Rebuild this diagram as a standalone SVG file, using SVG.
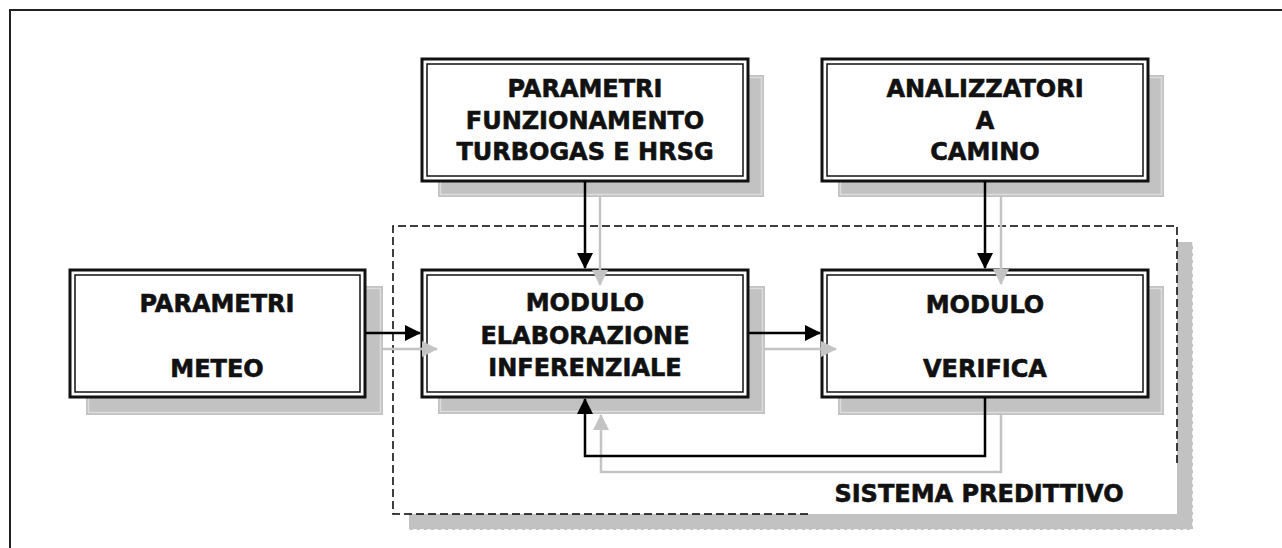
<svg xmlns="http://www.w3.org/2000/svg" width="1282" height="548" viewBox="0 0 1282 548">
  <style>
    .frame { fill: none; stroke: #222; stroke-width: 2; }
    .shadow { fill: #c2c2c2; }
    .shadow-edge { fill: none; stroke: #dcdcdc; stroke-width: 1.5; }
    .box-outer { fill: #fff; stroke: #111; stroke-width: 3; }
    .box-inner { fill: none; stroke: #111; stroke-width: 1.5; }
    .label { font-family: "DejaVu Sans", Verdana, sans-serif; font-weight: bold; font-size: 24px; fill: #111; stroke: #111; stroke-width: 0.6; text-anchor: middle; }
    .wire { fill: none; stroke: #000; stroke-width: 2.5; }
    .wire-shadow { fill: none; stroke: #c4c4c4; stroke-width: 2.5; }
    .sys { fill: none; stroke: #000; stroke-width: 1.5; stroke-dasharray: 8 4; }
  </style>
  <defs>
    <marker id="arrow" viewBox="0 0 16 16" refX="15" refY="8" markerWidth="16" markerHeight="16" markerUnits="userSpaceOnUse" orient="auto">
      <path d="M0,0 L16,8 L0,16 Z" fill="#000"/>
    </marker>
    <marker id="arrow-shadow" viewBox="0 0 16 16" refX="15" refY="8" markerWidth="16" markerHeight="16" markerUnits="userSpaceOnUse" orient="auto">
      <path d="M0,0 L16,8 L0,16 Z" fill="#c4c4c4"/>
    </marker>
  </defs>

  <rect width="1282" height="548" fill="#fff"/>

  <!-- page frame (open to the right and bottom) -->
  <path class="frame" d="M10,548 V10 H1282"/>

  <!-- predictive system boundary with its drop shadow -->
  <g id="sistema-predittivo">
    <rect x="409" y="242" width="784" height="288" fill="#c2c2c2"/>
    <path d="M1193,242 V530 H409" fill="none" stroke="#fff" stroke-width="1.5" stroke-dasharray="4 3"/>
    <rect x="393" y="226" width="784" height="288" fill="#fff"/>
    <path class="sys" d="M808,514 H393 V226 H1177 V463"/>
    <text class="label" x="979" y="502">SISTEMA PREDITTIVO</text>
  </g>

  <!-- nodes -->
  <g id="parametri-funzionamento">
    <rect class="shadow" x="438" y="75" width="326" height="122"/>
    <rect class="shadow-edge" x="440.5" y="77.5" width="321" height="117"/>
    <rect class="box-outer" x="422" y="59" width="326" height="122"/>
    <rect class="box-inner" x="427" y="64" width="316" height="112"/>
    <text class="label" x="585" y="97">PARAMETRI</text>
    <text class="label" x="585" y="128.5">FUNZIONAMENTO</text>
    <text class="label" x="585" y="160">TURBOGAS E HRSG</text>
  </g>

  <g id="analizzatori">
    <rect class="shadow" x="838" y="75" width="326" height="122"/>
    <rect class="shadow-edge" x="840.5" y="77.5" width="321" height="117"/>
    <rect class="box-outer" x="822" y="59" width="326" height="122"/>
    <rect class="box-inner" x="827" y="64" width="316" height="112"/>
    <text class="label" x="985" y="97">ANALIZZATORI</text>
    <text class="label" x="985" y="128.5">A</text>
    <text class="label" x="985" y="160">CAMINO</text>
  </g>

  <g id="parametri-meteo">
    <rect class="shadow" x="86" y="286" width="297" height="129"/>
    <rect class="shadow-edge" x="88.5" y="288.5" width="292" height="124"/>
    <rect class="box-outer" x="70" y="270" width="295" height="127"/>
    <rect class="box-inner" x="75" y="275" width="285" height="117"/>
    <text class="label" x="217" y="312">PARAMETRI</text>
    <text class="label" x="217" y="377">METEO</text>
  </g>

  <g id="modulo-elaborazione">
    <rect class="shadow" x="438" y="286" width="327" height="128"/>
    <rect class="shadow-edge" x="440.5" y="288.5" width="322" height="123"/>
    <rect class="box-outer" x="422" y="270" width="326" height="127"/>
    <rect class="box-inner" x="427" y="275" width="316" height="117"/>
    <text class="label" x="585" y="311">MODULO</text>
    <text class="label" x="585" y="344">ELABORAZIONE</text>
    <text class="label" x="585" y="375.5">INFERENZIALE</text>
  </g>

  <g id="modulo-verifica">
    <rect class="shadow" x="838" y="286" width="326" height="129"/>
    <rect class="shadow-edge" x="840.5" y="288.5" width="321" height="124"/>
    <rect class="box-outer" x="822" y="270" width="326" height="127"/>
    <rect class="box-inner" x="827" y="275" width="316" height="117"/>
    <text class="label" x="985" y="313">MODULO</text>
    <text class="label" x="985" y="376.5">VERIFICA</text>
  </g>

  <!-- connectors: grey drop-shadow copies, then the black lines -->
  <g id="connectors">
    <path class="wire-shadow" d="M383,349 H437" marker-end="url(#arrow-shadow)"/>
    <path class="wire-shadow" d="M765,349 H836" marker-end="url(#arrow-shadow)"/>
    <path class="wire-shadow" d="M600,197 V285" marker-end="url(#arrow-shadow)"/>
    <path class="wire-shadow" d="M1001,197 V284" marker-end="url(#arrow-shadow)"/>
    <path class="wire-shadow" d="M1001,415 V472 H601 V415" marker-end="url(#arrow-shadow)"/>

    <path class="wire" d="M365,333 H420" marker-end="url(#arrow)"/>
    <path class="wire" d="M749,333 H820" marker-end="url(#arrow)"/>
    <path class="wire" d="M585,181 V268" marker-end="url(#arrow)"/>
    <path class="wire" d="M985,181 V268" marker-end="url(#arrow)"/>
    <path class="wire" d="M985,398 V456 H585 V399" marker-end="url(#arrow)"/>
  </g>
</svg>
